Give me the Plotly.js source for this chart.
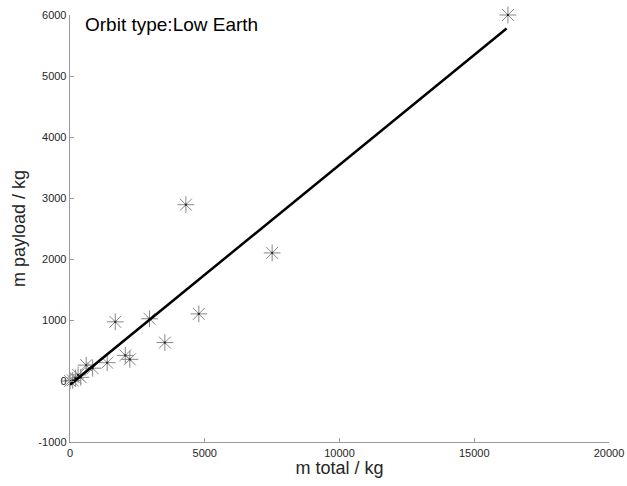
<!DOCTYPE html>
<html>
<head>
<meta charset="utf-8">
<script src="https://cdn.plot.ly/plotly-3.0.1.min.js"></script>
<style>html,body{margin:0;padding:0;background:#fff;}#chart{width:627px;height:486px;}</style>
</head>
<body>
<div id="chart"></div>
<script>
// Measured launch data (total mass vs payload mass), kg
const mTotal   = [0, 100, 200, 300, 400, 600, 840, 1380, 1680, 2050, 2220, 2950, 3520, 4300, 4780, 7500, 16250];
const mPayload = [0, 10, 50, 100, 60, 260, 210, 300, 970, 420, 355, 1020, 630, 2890, 1100, 2100, 6000];
// Linear fit line as drawn in the reference
const fitX = [0, 16200];
const fitY = [-60, 5780];
const xTicks = [0, 5000, 10000, 15000, 20000];
const yTicks = [-1000, 0, 1000, 2000, 3000, 4000, 5000, 6000];
const titleText = 'Orbit type:Low Earth';

const font = 'Liberation Sans, Arial, Helvetica, sans-serif';
const data = [
  {x: mTotal, y: mPayload, type: 'scatter', mode: 'markers', cliponaxis: false,
   marker: {symbol: 'asterisk-open', size: 14, color: '#888', line: {color: '#8a8a8a', width: 1}},
   showlegend: false, hoverinfo: 'none'},
  {x: mTotal, y: mPayload, type: 'scatter', mode: 'markers', cliponaxis: false,
   marker: {symbol: 'square', size: 2, color: '#222'},
   showlegend: false, hoverinfo: 'none'},
  {x: fitX, y: fitY, type: 'scatter', mode: 'lines',
   line: {color: '#000', width: 2.5}, showlegend: false, hoverinfo: 'none'}
];
const axisCommon = {
  showgrid: false, zeroline: false, showline: true, linecolor: '#9a9a9a', linewidth: 1.3,
  ticks: 'inside', ticklen: 4, tickcolor: '#9a9a9a', tickwidth: 1,
  tickfont: {family: font, size: 11, color: '#262626'}, mirror: false
};
const layout = {
  width: 627, height: 486,
  margin: {l: 70, r: 18, t: 15, b: 44},
  paper_bgcolor: '#fff', plot_bgcolor: '#fff',
  xaxis: Object.assign({}, axisCommon, {range: [0, 20000], tickvals: xTicks, ticktext: xTicks.map(String),
    title: {text: 'm total / kg', font: {family: font, size: 18, color: '#262626'}, standoff: 4}}),
  yaxis: Object.assign({}, axisCommon, {range: [-1000, 6000], tickvals: yTicks, ticktext: yTicks.map(String),
    title: {text: 'm payload / kg', font: {family: font, size: 18, color: '#262626'}, standoff: 8}}),
  annotations: [{text: titleText, xref: 'paper', yref: 'paper', x: 0.024, y: 1.008, xanchor: 'left', yanchor: 'top',
    showarrow: false, font: {family: font, size: 19, color: '#000'}}]
};
Plotly.newPlot('chart', data, layout, {staticPlot: true, displayModeBar: false});
</script>
</body>
</html>
